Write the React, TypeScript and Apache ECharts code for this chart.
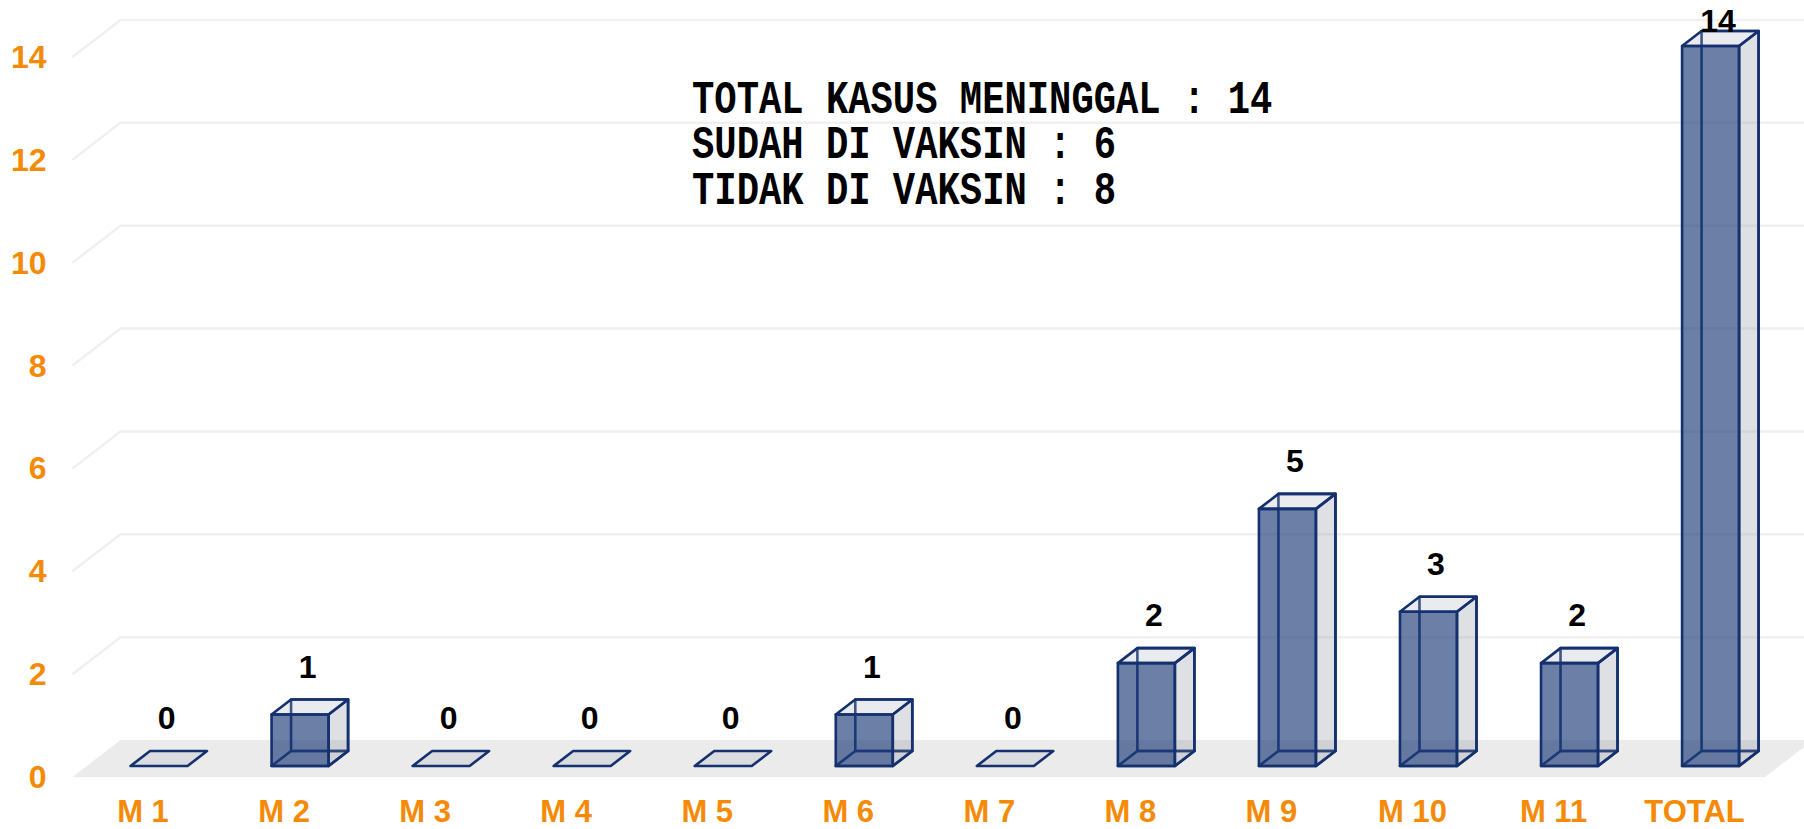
import React, { useEffect, useRef } from "react";
import * as echarts from "echarts";

const categories = ["M 1", "M 2", "M 3", "M 4", "M 5", "M 6", "M 7", "M 8", "M 9", "M 10", "M 11", "TOTAL"];
const values = [0, 1, 0, 0, 0, 1, 0, 2, 5, 3, 2, 14];
const yTicks = [0, 2, 4, 6, 8, 10, 12, 14];
const noteLines = ["TOTAL KASUS MENINGGAL : 14", "SUDAH DI VAKSIN : 6", "TIDAK DI VAKSIN : 8"];

const ORANGE = "#f58a07";
const EDGE = "#14306f";
const WALL_DX = 48;
const WALL_DY = 37;
const BAR_W = 57;
const BAR_SHIFT = 16;
const BAR_LIFT = 11;
const DEPTH_X = 19.5;
const DEPTH_Y = 15;

function renderWall(params: any, api: any) {
  const v = api.value(1);
  const y = api.coord([0, v])[1];
  const cs = params.coordSys;
  const left = cs.x;
  const right = cs.x + cs.width;
  if (v === 0) {
    return {
      type: "polygon",
      shape: {
        points: [
          [left, y],
          [left + WALL_DX, y - WALL_DY],
          [right + WALL_DX, y - WALL_DY],
          [right, y],
        ],
      },
      style: { fill: "#ebebeb", stroke: "none" },
      silent: true,
    };
  }
  return {
    type: "polyline",
    shape: {
      points: [
        [left, y],
        [left + WALL_DX, y - WALL_DY],
        [right + WALL_DX, y - WALL_DY],
      ],
    },
    style: { fill: "none", stroke: "#f0f0f0", lineWidth: 2.5 },
    silent: true,
  };
}

function poly(points: number[][], fill: string) {
  return {
    type: "polygon",
    shape: { points },
    style: { fill, stroke: EDGE, lineWidth: 2.6, lineJoin: "round" },
    silent: true,
  };
}

function renderBar(_params: any, api: any) {
  const idx = api.value(0);
  const val = api.value(1);
  const base = api.coord([idx, 0]);
  const top = api.coord([idx, val]);
  const x0 = base[0] + BAR_SHIFT - BAR_W / 2;
  const x1 = x0 + BAR_W;
  const yb = base[1] - BAR_LIFT;
  const yt = top[1] - BAR_LIFT;
  const dx = DEPTH_X;
  const dy = DEPTH_Y;
  const children: any[] = [];
  if (val > 0) {
    children.push(poly([[x0 + dx, yb - dy], [x1 + dx, yb - dy], [x1 + dx, yt - dy], [x0 + dx, yt - dy]], "rgba(255,255,255,0)"));
    children.push(poly([[x0, yb], [x1, yb], [x1 + dx, yb - dy], [x0 + dx, yb - dy]], "rgba(255,255,255,0)"));
    children.push(poly([[x1, yb], [x1 + dx, yb - dy], [x1 + dx, yt - dy], [x1, yt]], "rgba(127,132,145,0.25)"));
  }
  children.push(poly([[x0, yt], [x1, yt], [x1 + dx, yt - dy], [x0 + dx, yt - dy]], "rgba(176,184,196,0.28)"));
  if (val > 0) {
    children.push(poly([[x0, yb], [x1, yb], [x1, yt], [x0, yt]], "rgba(31,60,122,0.66)"));
  }
  children.push({
    type: "text",
    x: (x0 + x1) / 2 + 7.5,
    y: Math.max(yt - 48, 21),
    style: {
      text: String(val),
      fill: "#000000",
      font: 'bold 32px "Liberation Sans", Arial, sans-serif',
      align: "center",
      verticalAlign: "middle",
    },
    silent: true,
  });
  return { type: "group", children };
}

export default function App() {
  const ref = useRef<HTMLDivElement>(null);
  useEffect(() => {
    document.body.style.margin = "0";
    const chart = echarts.init(ref.current!, undefined, { renderer: "svg" });
    chart.setOption({
      animation: false,
      backgroundColor: "#ffffff",
      grid: { left: 72.5, right: 38.9, top: 57, bottom: 52, containLabel: false },
      xAxis: {
        type: "category",
        data: categories,
        axisLine: { show: false },
        axisTick: { show: false },
        splitLine: { show: false },
        axisLabel: {
          color: ORANGE,
          fontFamily: '"Liberation Sans", Arial, sans-serif',
          fontWeight: "bold",
          fontSize: 31,
          lineHeight: 24,
          margin: 22.5,
          interval: 0,
        },
      },
      yAxis: {
        type: "value",
        min: 0,
        max: 14,
        interval: 2,
        axisLine: { show: false },
        axisTick: { show: false },
        splitLine: { show: false },
        axisLabel: {
          color: ORANGE,
          fontFamily: '"Liberation Sans", Arial, sans-serif',
          fontWeight: "bold",
          fontSize: 32,
          padding: [2, 0, 0, 0],
          margin: 26,
        },
      },
      graphic: noteLines.map((line, i) => ({
        type: "text",
        x: 692,
        y: 100 + i * 45.5,
        scaleY: 1.22,
        z: 10,
        style: {
          text: line,
          fill: "#000000",
          font: 'bold 37.2px "Liberation Mono", monospace',
          verticalAlign: "middle",
        },
      })),
      series: [
        {
          type: "custom",
          z: 1,
          clip: false,
          silent: true,
          renderItem: renderWall,
          data: yTicks.map((t) => [0, t]),
          encode: { x: 0, y: 1 },
        },
        {
          type: "custom",
          z: 2,
          clip: false,
          silent: true,
          renderItem: renderBar,
          data: values.map((v, i) => [i, v]),
          encode: { x: 0, y: 1 },
        },
      ],
    });
    return () => chart.dispose();
  }, []);
  return <div ref={ref} style={{ position: "absolute", left: 0, top: 0, width: 1804, height: 829 }} />;
}
